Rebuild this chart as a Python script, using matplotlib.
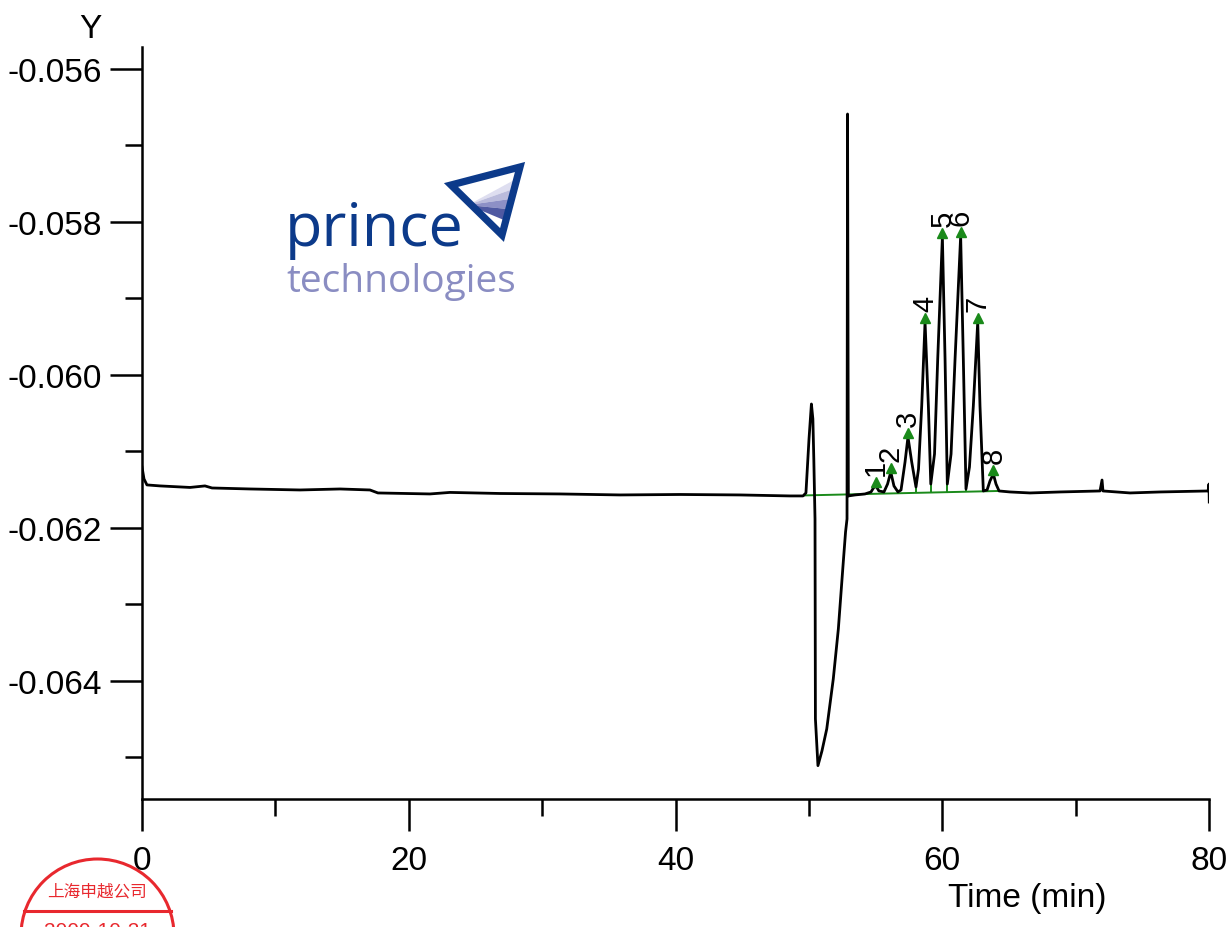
import matplotlib
matplotlib.use('Agg')
import matplotlib.pyplot as plt
from matplotlib.patches import Polygon, Circle
from matplotlib.transforms import offset_copy

# chromatogram trace (time in min, signal)
times = [0.00, 0.15, 0.37, 1.35, 3.60, 4.72, 5.25, 8.10, 11.85, 14.85, 17.09, 17.69,
         21.59, 23.09, 26.84, 31.34, 35.84, 40.34, 44.83, 48.58, 49.56, 49.78, 50.01,
         50.19, 50.30, 50.37, 50.46, 50.49, 50.68, 50.98, 51.34, 51.83, 52.21, 52.58,
         52.75, 52.86, 52.90, 52.96, 53.46, 54.21, 54.66, 54.84, 55.03, 55.25, 55.63,
         55.90, 56.14, 56.38, 56.68, 56.91, 57.21, 57.43, 57.71, 58.03, 58.22, 58.46,
         58.71, 58.96, 59.14, 59.42, 59.66, 60.01, 60.21, 60.38, 60.66, 60.96, 61.38,
         61.58, 61.78, 62.04, 62.33, 62.66, 62.83, 63.08, 63.36, 63.58, 63.83, 64.03,
         64.26, 65.08, 66.58, 68.83, 71.83, 71.98, 72.05, 74.08, 76.33, 79.93, 80.00, 80.02]
signal = [-0.061207, -0.061363, -0.061441, -0.061454, -0.061474, -0.061454, -0.061481,
          -0.061494, -0.061507, -0.061494, -0.061507, -0.061546, -0.061559, -0.061539,
          -0.061553, -0.061559, -0.061572, -0.061566, -0.061572, -0.061585, -0.061585,
          -0.061546, -0.060840, -0.060383, -0.060579, -0.061102, -0.061886, -0.064500,
          -0.065111, -0.064919, -0.064631, -0.063977, -0.063323, -0.062448, -0.062056,
          -0.061886, -0.056592, -0.061585, -0.061572, -0.061559, -0.061533, -0.061481,
          -0.061455, -0.061520, -0.061533, -0.061429, -0.061272, -0.061455, -0.061533,
          -0.061507, -0.061141, -0.060814, -0.061141, -0.061468, -0.061233, -0.060409,
          -0.059311, -0.060409, -0.061429, -0.061037, -0.059795, -0.058200, -0.059795,
          -0.061429, -0.061037, -0.059795, -0.058187, -0.059795, -0.061494, -0.061207,
          -0.060409, -0.059311, -0.060409, -0.061520, -0.061507, -0.061389, -0.061298,
          -0.061429, -0.061520, -0.061533, -0.061546, -0.061533, -0.061520, -0.061377,
          -0.061520, -0.061546, -0.061533, -0.061520, -0.061429, -0.061665]

# integrated peaks
peak_names = ['1', '2', '3', '4', '5', '6', '7', '8']
peak_times = [55.03, 56.14, 57.43, 58.71, 60.01, 61.38, 62.66, 63.83]
peak_values = [-0.061455, -0.061272, -0.060814, -0.059311, -0.058200, -0.058187, -0.059311, -0.061298]
valley_times = [55.63, 56.68, 58.03, 59.14, 60.38, 61.78, 63.08]
valley_values = [-0.061533, -0.061533, -0.061468, -0.061429, -0.061429, -0.061494, -0.061520]
base_times = [49.71, 64.26]
base_values = [-0.061578, -0.061520]

x_ticks = [0, 20, 40, 60, 80]
x_tick_labels = ['0', '20', '40', '60', '80']
x_minor = [10, 30, 50, 70]
y_ticks = [-0.056, -0.058, -0.060, -0.062, -0.064]
y_tick_labels = ['-0.056', '-0.058', '-0.060', '-0.062', '-0.064']
y_minor = [-0.057, -0.059, -0.061, -0.063, -0.065]

plt.rcParams['font.family'] = ['Liberation Sans', 'DejaVu Sans']

fig = plt.figure(figsize=(12.29, 9.28), dpi=100)
ax = fig.add_axes([142 / 1229, 1 - 800 / 928, 1067 / 1229, 752 / 928])

ax.plot(times, signal, color='black', lw=2.0, zorder=3, solid_joinstyle='round')

green = '#1a8a1a'
base_v = [base_values[0] + (t - base_times[0]) * (base_values[1] - base_values[0]) / (base_times[1] - base_times[0])
          for t in valley_times]
ax.plot(base_times, base_values, color=green, lw=1.4, zorder=2)
ax.vlines(valley_times, base_v, valley_values, color=green, lw=1.4, zorder=2)

tri = offset_copy(ax.transData, fig=fig, x=0, y=4, units='dots')
ax.plot(peak_times, peak_values, linestyle='none', marker='^', color=green,
        markersize=7, transform=tri, zorder=4)
for name, t, v in zip(peak_names, peak_times, peak_values):
    ax.annotate(name, xy=(t, v), xytext=(0, 8), textcoords='offset points',
                rotation=90, ha='center', va='bottom', fontsize=21, color='black')

ax.set_xlim(0, 80)
ax.set_ylim(-0.065547, -0.055716)
ax.set_xticks(x_ticks)
ax.set_xticklabels(x_tick_labels)
ax.set_xticks(x_minor, minor=True)
ax.set_yticks(y_ticks)
ax.set_yticklabels(y_tick_labels)
ax.set_yticks(y_minor, minor=True)
ax.tick_params(which='major', length=23, width=1.8, labelsize=24, direction='out')
ax.tick_params(which='minor', length=12, width=1.8, direction='out')
ax.tick_params(axis='x', which='major', pad=10)
ax.tick_params(axis='y', which='major', pad=6)
for s in ['top', 'right']:
    ax.spines[s].set_visible(False)
for s in ['left', 'bottom']:
    ax.spines[s].set_linewidth(1.8)
ax.patch.set_alpha(0)

fig.text(1027 / 1229, 1 - 899 / 928, 'Time (min)', ha='center', va='center', fontsize=24)
fig.text(90 / 1229, 1 - 30 / 928, 'Y', ha='center', va='center', fontsize=24)

# overlay in pixel units for the logo and the stamp
ov = fig.add_axes([0, 0, 1, 1], zorder=-1)
ov.set_xlim(0, 1229)
ov.set_ylim(928, 0)
ov.axis('off')

navy = '#0c3a8a'
ov.text(285, 246, 'prince', family='Open Sans', fontsize=44, color=navy, ha='left', va='baseline')
ov.text(286, 292, 'technologies', family='Open Sans', fontsize=28, color='#8a8dc2',
        ha='left', va='baseline')
bands = [(180, 190, '#dedef0'), (190, 200, '#babbdc'), (200, 210, '#8d90c6'), (210, 221, '#4f59a2')]
for y0, y1, c in bands:
    x0 = 525 - 0.297 * (y0 - 163.3) - 4
    x1 = 525 - 0.297 * (y1 - 163.3) - 4
    ov.add_patch(Polygon([(468, 206), (x0, y0), (x1, y1)], closed=True, facecolor=c, edgecolor='none'))
ov.add_patch(Polygon([(451, 186), (520, 168), (502, 236)], closed=True, fill=False,
                     edgecolor=navy, lw=5.2, joinstyle='miter'))

red = '#e8282e'
ov.add_patch(Circle((97.5, 936.5), 76.5, fill=False, edgecolor=red, lw=2.2))
ov.plot([24, 171], [912, 912], color=red, lw=2.2)
ov.text(97.5, 892, '上海申越公司', family=['Noto Sans CJK SC', 'DejaVu Sans'], fontsize=12,
        color=red, ha='center', va='center')
ov.text(97.5, 937, '2009-10-21', fontsize=15, color=red, ha='center', va='baseline')

fig.savefig('out.png', dpi=100)
